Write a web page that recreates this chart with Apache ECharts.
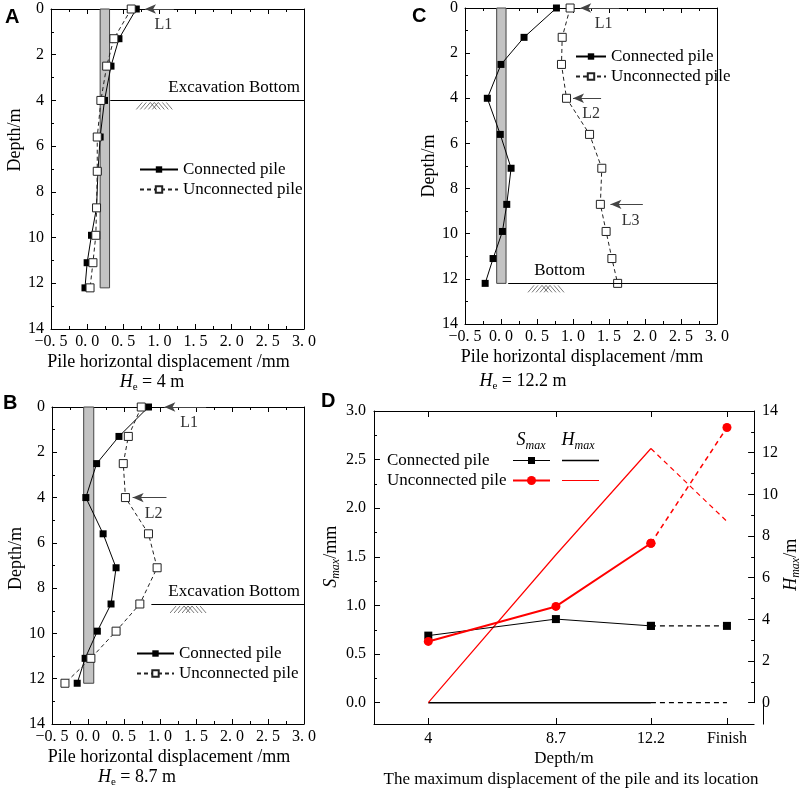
<!DOCTYPE html>
<html><head><meta charset="utf-8">
<script src="https://cdn.jsdelivr.net/npm/echarts@6/dist/echarts.min.js"></script>
<style>html,body{margin:0;padding:0;background:#fff}#c{width:803px;height:791px}</style>
</head><body><div id="c"></div>
<script>
// ---------- data ----------
const depths = [0, 1.3, 2.5, 4.0, 5.6, 7.1, 8.7, 9.9, 11.1, 12.2];
const aConnected   = [0.68, 0.44, 0.33, 0.24, 0.18, 0.15, 0.13, 0.06, 0.00, -0.03];
const aUnconnected = [0.61, 0.37, 0.27, 0.19, 0.14, 0.14, 0.13, 0.12, 0.08, 0.04];
const bConnected   = [0.84, 0.43, 0.12, -0.03, 0.21, 0.39, 0.32, 0.13, -0.04, -0.15];
const bUnconnected = [0.74, 0.56, 0.49, 0.52, 0.84, 0.96, 0.72, 0.39, 0.04, -0.32];
const cConnected   = [0.77, 0.32, 0.00, -0.19, -0.01, 0.14, 0.08, 0.02, -0.11, -0.22];
const cUnconnected = [0.96, 0.85, 0.84, 0.91, 1.23, 1.40, 1.38, 1.46, 1.54, 1.62];
const excavationDepths = [4, 8.7, 12.2];
const pileLength = 12.2;
const subtitleValues = ['4', '8.7', '12.2'];

const stageX = [4, 8.7, 12.2, 15];
const stageLabels = ['4', '8.7', '12.2', 'Finish'];
const sMaxConnected   = [0.69, 0.86, 0.79, 0.79];
const sMaxUnconnected = [0.63, 0.99, 1.64, 2.83];
const hMaxConnected   = [0, 0, 0, 0];
const hMaxUnconnected = [0, 7.1, 12.2, 8.7];

// ---------- helpers ----------
const serif = '"Liberation Serif", "Times New Roman", serif';
const sans = '"Liberation Sans", Arial, sans-serif';
const zip = (xs, ys) => xs.map((x, i) => [x, ys[i]]);
const pairs = (vals) => vals.map((v, i) => [v, depths[i]]);
const fmtX = v => (v < 0 ? '\u2212' : '') + Math.abs(v).toFixed(1).replace('.', '. ');

const panels = [
  {grid:{left:51, top:9, width:253, height:320}, conn:aConnected, unconn:aUnconnected,
   pile:[0.18, 0.31], excStart:0.32, excLabel:'Excavation Bottom', excPos:'insideEndTop', excPad:0,
   hatchX:0.68, arrows:[{d:0, x0:0.80, x1:1.20, t:'L1'}],
   legend:{left:134, top:156, w:38}, yPad:58, sub:{x:152, y:382}, letter:{t:'A', x:5, y:7}},
  {grid:{left:52, top:407, width:252, height:317}, conn:bConnected, unconn:bUnconnected,
   pile:[-0.06, 0.08], excStart:0.88, excLabel:'Excavation Bottom', excPos:'insideEndTop', excPad:0,
   hatchX:1.14, arrows:[{d:0, x0:1.06, x1:1.64, t:'L1'}, {d:4, x0:0.62, x1:1.09, t:'L2'}],
   legend:{left:131, top:640, w:37}, yPad:14, sub:{x:137, y:777}, letter:{t:'B', x:3, y:393}},
  {grid:{left:465, top:6, width:252, height:318}, conn:cConnected, unconn:cUnconnected,
   pile:[-0.06, 0.07], excStart:0.10, excLabel:'Bottom', excPos:'insideStartTop', excPad:22,
   hatchX:0.375, arrows:[{d:0, x0:1.10, x1:1.64, t:'L1'}, {d:4, x0:1.00, x1:1.39, t:'L2'}, {d:8.7, x0:1.52, x1:1.97, t:'L3'}],
   legend:{left:570, top:43, w:30}, yPad:0, sub:{x:523, y:381}, letter:{t:'C', x:412, y:6}}
];

const tickLine = {color:'#000', width:1};
const grids = [], xAxes = [], yAxes = [], series = [], legends = [], graphics = [];

panels.forEach((p, i) => {
  grids.push(Object.assign({containLabel:false}, p.grid));
  const xb = {gridIndex:i, type:'value', min:-0.5, max:3, interval:0.5, splitLine:{show:false},
    axisLine:{show:true, onZero:false, lineStyle:tickLine},
    axisTick:{show:true, inside:true, length:5, lineStyle:tickLine},
    minorTick:{show:true, splitNumber:2, length:3, lineStyle:tickLine}};
  xAxes.push(Object.assign({}, xb, {position:'bottom',
    axisLabel:{color:'#000', fontFamily:serif, fontSize:16, margin:5, formatter:fmtX},
    name:'Pile horizontal displacement /mm', nameLocation:'middle', nameGap:24,
    nameTextStyle:{color:'#000', fontFamily:serif, fontSize:18, padding:[0,18,0,0]}}));
  xAxes.push(Object.assign({}, xb, {position:'top', axisLabel:{show:false}}));
  yAxes.push({gridIndex:i, type:'value', inverse:true, min:0, max:14, interval:2, position:'left',
    splitLine:{show:false}, axisLine:{show:true, onZero:false, lineStyle:tickLine},
    axisTick:{show:true, inside:true, length:5, lineStyle:tickLine},
    minorTick:{show:true, splitNumber:2, length:3, lineStyle:tickLine},
    axisLabel:{color:'#000', fontFamily:serif, fontSize:16, margin:7},
    name:'Depth/m', nameLocation:'middle', nameGap:19, nameRotate:90,
    nameTextStyle:{color:'#000', fontFamily:serif, fontSize:18, padding:[0,0,0,p.yPad]}});
  yAxes.push({gridIndex:i, type:'value', inverse:true, min:0, max:14, position:'right',
    splitLine:{show:false}, axisLine:{show:true, onZero:false, lineStyle:tickLine},
    axisTick:{show:false}, axisLabel:{show:false}});
  const xi = 2*i, yi = 2*i;
  const excD = excavationDepths[i];
  const mlData = [[{coord:[p.excStart, excD], symbol:'none',
      label:{show:true, formatter:p.excLabel, position:p.excPos, distance:4, color:'#000', fontFamily:serif, fontSize:17,
        padding:[0,0,0,p.excPad]},
      lineStyle:{color:'#000', width:1, type:'solid'}},
     {coord:[3, excD], symbol:'none'}]];
  p.arrows.forEach(a => {
    mlData.push([{coord:[a.x0, a.d], symbol:'arrow', symbolSize:[7,11],
      label:{show:true, formatter:a.t, position:'insideMiddleBottom', distance:8, color:'#333', fontFamily:serif, fontSize:16,
        padding:[0,0,0,8]},
      lineStyle:{color:'#444', width:1, type:'solid'}, itemStyle:{color:'#000'}},
     {coord:[a.x1, a.d], symbol:'none'}]);
  });
  series.push({type:'line', name:'deco'+i, xAxisIndex:xi, yAxisIndex:yi, data:[], silent:true, z:1,
    markArea:{silent:true, itemStyle:{color:'#c3c3c3', opacity:1, borderColor:'#444', borderWidth:1},
      data:[[{coord:[p.pile[0], 0]}, {coord:[p.pile[1], pileLength]}]]},
    markLine:{silent:true, symbol:['none','none'], animation:false, data:mlData}});
  series.push({type:'custom', name:'hatch'+i, xAxisIndex:xi, yAxisIndex:yi, silent:true, z:1,
    data:[[p.hatchX, excD]], encode:{x:0, y:1},
    renderItem:(params, api) => {
      const c = api.coord([api.value(0), api.value(1)]);
      const ch = [];
      const st = {stroke:'#555', lineWidth:0.8};
      for (let k = 0; k < 5; k++) ch.push({type:'line', shape:{x1:c[0]+k*4, y1:c[1]+9, x2:c[0]+k*4+6, y2:c[1]+2}, style:st});
      for (let k = 0; k < 5; k++) ch.push({type:'line', shape:{x1:c[0]+14+k*4, y1:c[1]+2, x2:c[0]+14+k*4+6, y2:c[1]+9}, style:st});
      return {type:'group', children:ch};
    }});
  series.push({type:'line', name:'Connected pile', xAxisIndex:xi, yAxisIndex:yi, data:pairs(p.conn),
    symbol:'rect', symbolSize:7, itemStyle:{color:'#000'}, lineStyle:{color:'#000', width:1}, z:3, animation:false});
  series.push({type:'line', name:'Unconnected pile', xAxisIndex:xi, yAxisIndex:yi, data:pairs(p.unconn),
    symbol:'rect', symbolSize:8, itemStyle:{color:'#fff', borderColor:'#222', borderWidth:1},
    lineStyle:{color:'#222', width:1, type:[4,3]}, z:4, animation:false});
  legends.push({data:['Connected pile','Unconnected pile'], orient:'vertical', left:p.legend.left, top:p.legend.top,
    itemWidth:p.legend.w, itemHeight:8, itemGap:3, selectedMode:false,
    textStyle:{color:'#000', fontFamily:serif, fontSize:17, lineHeight:17}});
  graphics.push({type:'text', x:p.sub.x, y:p.sub.y, style:{text:'{i|H}{s|e}{n| = ' + subtitleValues[i] + ' m}',
    align:'center', verticalAlign:'middle', fill:'#000',
    rich:{i:{fontStyle:'italic', fontFamily:serif, fontSize:18, lineHeight:22},
          s:{fontFamily:serif, fontSize:11, verticalAlign:'bottom', lineHeight:12},
          n:{fontFamily:serif, fontSize:18, lineHeight:22}}}});
  graphics.push({type:'text', x:p.letter.x, y:p.letter.y, style:{text:p.letter.t, font:'bold 20px ' + sans, fill:'#000'}});
});

// ---------- panel D ----------
grids.push({left:374, top:411, width:389, height:291.7});
const dTicks = stageX;
const dxb = {gridIndex:3, type:'value', min:2, max:16, splitLine:{show:false},
  axisLine:{show:true, onZero:false, lineStyle:tickLine},
  axisTick:{show:true, inside:true, length:6, lineStyle:tickLine, customValues:dTicks}};
xAxes.push(Object.assign({}, dxb, {position:'bottom', offset:21.3,
  axisLabel:{color:'#000', fontFamily:serif, fontSize:16, margin:7, customValues:dTicks,
    formatter:v => stageLabels[stageX.indexOf(v)] ?? ''},
  name:'Depth/m', nameLocation:'middle', nameGap:26,
  nameTextStyle:{color:'#000', fontFamily:serif, fontSize:17}}));
xAxes.push(Object.assign({}, dxb, {position:'top', axisLabel:{show:false}}));
const richSub = () => ({i:{fontStyle:'italic', fontFamily:serif, fontSize:18, lineHeight:22},
  s:{fontStyle:'italic', fontFamily:serif, fontSize:12, verticalAlign:'bottom', lineHeight:12},
  n:{fontFamily:serif, fontSize:18, lineHeight:22}});
yAxes.push({gridIndex:3, type:'value', min:0, max:3, interval:0.5, position:'left',
  splitLine:{show:false}, axisLine:{show:true, onZero:false, lineStyle:tickLine},
  axisTick:{show:true, inside:true, length:6, lineStyle:tickLine},
  minorTick:{show:true, splitNumber:2, length:3, lineStyle:tickLine},
  axisLabel:{color:'#000', fontFamily:serif, fontSize:16, margin:8, formatter:v => v.toFixed(1)},
  name:'{i|S}{s|max}{n|/mm}', nameLocation:'middle', nameGap:22, nameRotate:90,
  nameTextStyle:{color:'#000', rich:richSub()}});
yAxes.push({gridIndex:3, type:'value', min:0, max:14, interval:2, position:'right',
  splitLine:{show:false}, axisLine:{show:true, onZero:false, lineStyle:tickLine},
  axisTick:{show:true, inside:true, length:6, lineStyle:tickLine},
  minorTick:{show:true, splitNumber:2, length:3, lineStyle:tickLine},
  axisLabel:{color:'#000', fontFamily:serif, fontSize:16, margin:8},
  name:'{i|H}{s|max}{n|/m}', nameLocation:'middle', nameGap:24, nameRotate:90,
  nameTextStyle:{color:'#000', rich:richSub(), padding:[0,16,0,0]}});

const dash = [5, 4];
function dSeries(name, yv, yIdx, color, solidW, dashW, symbol, size) {
  const common = {type:'line', xAxisIndex:6, yAxisIndex:yIdx, clip:false, animation:false,
    symbol:symbol, symbolSize:size, itemStyle:{color:color}};
  series.push(Object.assign({}, common, {name:name, data:zip(stageX.slice(0,3), yv.slice(0,3)),
    lineStyle:{color:color, width:solidW}}));
  series.push(Object.assign({}, common, {name:name + ' (finish)', data:zip(stageX.slice(2), yv.slice(2)),
    lineStyle:{color:color, width:dashW, type:dash}}));
}
dSeries('Hmax connected', hMaxConnected, 7, '#000', 1.5, 1.2, 'none', 0);
dSeries('Hmax unconnected', hMaxUnconnected, 7, '#ff0000', 1.2, 1.2, 'none', 0);
dSeries('Smax connected', sMaxConnected, 6, '#000', 1, 1.2, 'rect', 8);
dSeries('Smax unconnected', sMaxUnconnected, 6, '#ff0000', 2, 1.5, 'circle', 9);

// frame extension below zero line of panel D
graphics.push({type:'line', shape:{x1:374.5, y1:702, x2:374.5, y2:724.5}, style:{stroke:'#000', lineWidth:1}});
graphics.push({type:'line', shape:{x1:763.5, y1:702, x2:763.5, y2:724.5}, style:{stroke:'#000', lineWidth:1}});
// panel D legend
const hdrRich = {i:{fontStyle:'italic', fontFamily:serif, fontSize:18, lineHeight:24},
  s:{fontStyle:'italic', fontFamily:serif, fontSize:12, verticalAlign:'bottom', lineHeight:12}};
graphics.push({type:'text', x:531, y:440, style:{text:'{i|S}{s|max}', align:'center', verticalAlign:'middle', fill:'#000', rich:hdrRich}});
graphics.push({type:'text', x:578, y:440, style:{text:'{i|H}{s|max}', align:'center', verticalAlign:'middle', fill:'#000', rich:hdrRich}});
graphics.push({type:'text', x:387, y:461, style:{text:'Connected pile', font:'17px ' + serif, fill:'#000', verticalAlign:'middle'}});
graphics.push({type:'text', x:387, y:481, style:{text:'Unconnected pile', font:'17px ' + serif, fill:'#000', verticalAlign:'middle'}});
graphics.push({type:'line', shape:{x1:513, y1:460.5, x2:550, y2:460.5}, style:{stroke:'#000', lineWidth:1}});
graphics.push({type:'rect', shape:{x:528, y:457, width:7, height:7}, style:{fill:'#000'}});
graphics.push({type:'line', shape:{x1:562, y1:460.5, x2:599, y2:460.5}, style:{stroke:'#000', lineWidth:1.5}});
graphics.push({type:'line', shape:{x1:513, y1:480.5, x2:550, y2:480.5}, style:{stroke:'#ff0000', lineWidth:2}});
graphics.push({type:'circle', shape:{cx:531.5, cy:480.5, r:4.5}, style:{fill:'#ff0000'}});
graphics.push({type:'line', shape:{x1:562, y1:480.5, x2:599, y2:480.5}, style:{stroke:'#ff0000', lineWidth:1}});
graphics.push({type:'text', x:321, y:391, style:{text:'D', font:'bold 20px ' + sans, fill:'#000'}});
graphics.push({type:'text', x:571, y:780, style:{text:'The maximum displacement of the pile and its location',
  font:'17px ' + serif, fill:'#000', align:'center', verticalAlign:'middle'}});

const chart = echarts.init(document.getElementById('c'));
chart.setOption({
  animation:false, backgroundColor:'#fff',
  grid:grids, xAxis:xAxes, yAxis:yAxes, legend:legends, series:series, graphic:graphics
});
</script></body></html>
